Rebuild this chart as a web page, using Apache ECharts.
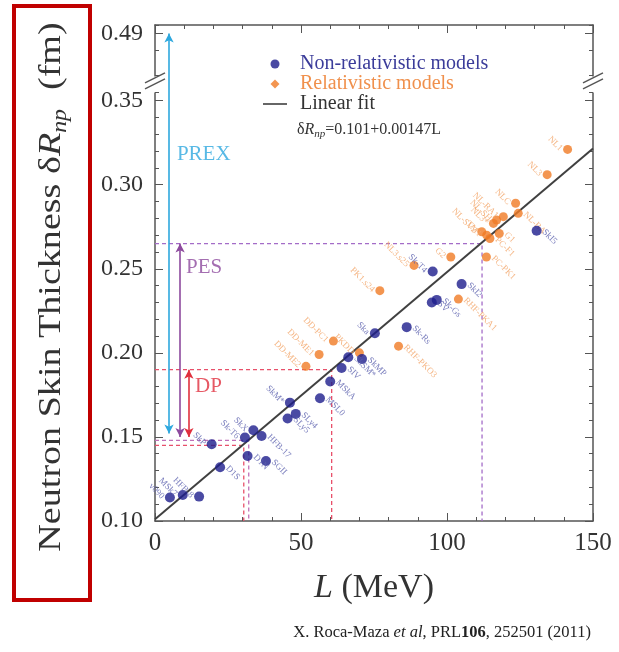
<!DOCTYPE html>
<html><head><meta charset="utf-8">
<script src="https://cdn.jsdelivr.net/npm/echarts@6/dist/echarts.min.js"></script>
<style>html,body{margin:0;padding:0;background:#fff}#c{width:619px;height:652px}</style>
</head><body><div id="c"></div>
<script>
// ---- data ----
const nonRelL = [5.1, 9.5, 15.1, 19.4, 22.3, 30.8, 31.7, 33.7, 36.5, 38.0, 45.4, 46.2, 48.2, 56.5, 60.0, 63.9, 66.2, 70.9, 75.3, 86.2, 94.8, 95.1, 96.5, 105.0, 130.7];
const nonRelR = [0.114, 0.1155, 0.1145, 0.1457, 0.132, 0.1496, 0.1387, 0.154, 0.1506, 0.1357, 0.161, 0.1704, 0.1637, 0.173, 0.183, 0.191, 0.1974, 0.1964, 0.2117, 0.2153, 0.230, 0.2484, 0.2315, 0.2409, 0.2726];
const nonRelNames = ['v090','MSk7','HFB-8','SkP','D1S','Sk-T6','D1N','SkX','HFB-17','SGII','SLy5','SkM*','SLy4','MSL0','MSkA','SIV','SkSM*','SkMP','Ska','Sk-Rs','SV','Sk-T4','Sk-Gs','SkI2','SkI5'];
const nonRelSide = ['ul','ul','ul','ul','dr','ul','dr','ul','dr','dr','dr','ul','dr','dr','dr','dr','dr','dr','ul','dr','dr','ul','dr','dr','dr'];

const relL = [51.7, 56.2, 61.1, 70.0, 77.0, 83.4, 88.7, 101.3, 103.9, 111.9, 113.5, 113.6, 114.7, 115.9, 117.0, 117.9, 119.3, 123.5, 124.4, 134.3, 141.3];
const relR = [0.192, 0.199, 0.207, 0.200, 0.237, 0.204, 0.252, 0.257, 0.232, 0.272, 0.257, 0.270, 0.268, 0.277, 0.279, 0.271, 0.281, 0.289, 0.283, 0.306, 0.321];
const relNames = ['DD-ME2','DD-ME1','DD-PC1','PKDD','PK1.s24','RHF-PKO3','NL3.s25','G2','RHF-PKA1','NL-SV2','PC-PK1','TM1','PC-F1','NL3*','NL-SH','G1','NL-RA1','NLC','NL-BA','NL3','NL1'];
const relSide = ['ul','ul','ul','ul','ul','dr','ul','ul','dr','ul','dr','ul','dr','ul','ul','dr','ul','ul','dr','ul','ul'];

const fitLine = [[0, 0.101], [150, 0.3215]];   // δR = 0.101 + 0.00147 L

// experimental constraints: [L position of arrow, lower, upper]
const prexArrow = [4.8, 0.152, 0.49];
const pesArrow  = [8.6, 0.150, 0.265];
const dpArrow   = [11.6, 0.150, 0.19];
// dashed guides
const pesUpperGuide = [[0, 0.265], [112, 0.265], [112, 0.10]];
const pesLowerGuide = [[0, 0.148], [32.1, 0.148], [32.1, 0.10]];
const dpUpperGuide  = [[0, 0.19], [60.5, 0.19], [60.5, 0.10]];
const dpLowerGuide  = [[0, 0.145], [30.4, 0.145], [30.4, 0.10]];
// annotation labels [L, δR, text, colour]
const annotations = [[7.5, 0.318, 'PREX', '#2ea8de'], [10.6, 0.2506, 'PES', '#8d4a9e'], [13.7, 0.1798, 'DP', '#e0303e']];

const xTicks = [0, 50, 100, 150];
const yTickVals = [0.10, 0.15, 0.20, 0.25, 0.30, 0.35, 0.49];
const yBreak = {start: 0.355, end: 0.465, gap: 0.01};

// ---- styles ----
const SERIF = '"Liberation Serif","DejaVu Serif",serif';
const BLUE = '#1d1d8c', BLUE_LBL = '#5b60ae';
const ORANGE = '#f07a24', ORANGE_LBL = '#f3a466';
const AX = '#555';

function pointData(Ls, Rs, names, sides) {
  return Ls.map((l, i) => ({
    value: [l, Rs[i]], name: names[i],
    label: sides[i] === 'ul'
      ? {position: 'left', align: 'right', rotate: -45, distance: 2}
      : {position: 'right', align: 'left', rotate: -45, distance: 2}
  }));
}

function yAx(pos, minor) {
  const a = {
    type: 'value', position: pos, min: 0.10, max: 0.495,
    breaks: [yBreak], breakArea: {show: false, expandOnClick: false},
    splitLine: {show: false},
    axisLine: {show: !minor, onZero: false, lineStyle: {color: AX, width: 1.5}},
    interval: minor ? 0.01 : 0.05
  };
  if (minor) {
    a.axisTick = {show: true, inside: true, length: 4, lineStyle: {color: AX}};
    a.axisLabel = {show: false};
  } else {
    a.axisTick = {show: true, inside: true, length: 8, customValues: yTickVals, lineStyle: {color: AX}};
    a.axisLabel = pos === 'left'
      ? {show: true, customValues: yTickVals, formatter: v => v.toFixed(2), fontFamily: SERIF, fontSize: 24, color: '#333', margin: 12}
      : {show: false};
  }
  return a;
}
function xAx(pos) {
  return {
    type: 'value', position: pos, min: 0, max: 150, interval: 50,
    splitLine: {show: false},
    axisLine: {onZero: false, lineStyle: {color: AX, width: 1.5}},
    axisTick: {show: true, inside: true, length: 8, lineStyle: {color: AX}},
    minorTick: {show: true, splitNumber: 5, length: 4, lineStyle: {color: AX}},
    axisLabel: pos === 'bottom'
      ? {show: true, fontFamily: SERIF, fontSize: 25, color: '#333', margin: 10, customValues: xTicks}
      : {show: false}
  };
}
function guide(data, color) {
  return {type: 'line', data: data, symbol: 'none', silent: true, z: 1,
    lineStyle: {color: color, width: 1.3, type: [4, 3]}};
}
function arrow(a, color) {
  return {type: 'line', data: [], symbol: 'none', silent: true, z: 3,
    markLine: {silent: true, symbol: ['arrow', 'arrow'], symbolSize: [7, 9], label: {show: false},
      lineStyle: {color: color, width: 1.6, type: 'solid'},
      data: [[{coord: [a[0], a[1]]}, {coord: [a[0], a[2]]}]]}};
}

const chart = echarts.init(document.getElementById('c'), null, {renderer: 'canvas'});
const option = {
  animation: false,
  backgroundColor: '#fff',
  grid: {left: 155, right: 26, top: 25, bottom: 131, containLabel: false},
  xAxis: [Object.assign(xAx('bottom'), {
      name: '{i|L} (MeV)', nameLocation: 'middle', nameGap: 50,
      nameTextStyle: {fontFamily: SERIF, fontSize: 34, color: '#333', rich: {i: {fontFamily: SERIF, fontSize: 34, fontStyle: 'italic', color: '#333'}}}
    }), xAx('top')],
  yAxis: [yAx('left', false), yAx('left', true), yAx('right', false), yAx('right', true)],
  legend: {
    orient: 'vertical', left: 258, top: 49, itemWidth: 24, itemHeight: 9, itemGap: 0,
    selectedMode: false, symbolKeepAspect: true,
    textStyle: {fontFamily: SERIF, fontSize: 20, padding: [0, 0, 0, 8]},
    data: [
      {name: 'Non-relativistic models', icon: 'circle', textStyle: {color: '#3b3c9a'}},
      {name: 'Relativistic models', icon: 'path://M5,0 L10,5 L5,10 L0,5 Z', textStyle: {color: '#f0904c'}},
      {name: 'Linear fit', icon: 'path://M0,0 L24,0 L24,1.6 L0,1.6 Z', textStyle: {color: '#333'}}
    ]
  },
  series: [
    guide(pesUpperGuide, '#a46cc8'),
    guide(pesLowerGuide, '#c070b8'),
    guide(dpUpperGuide, '#e8506a'),
    guide(dpLowerGuide, '#e8506a'),
    {name: 'Linear fit', type: 'line', data: fitLine, symbol: 'none', z: 2,
      lineStyle: {color: '#404040', width: 2}, itemStyle: {color: '#404040'}},
    {name: 'Non-relativistic models', type: 'scatter', symbol: 'circle', symbolSize: 10, z: 5,
      itemStyle: {color: BLUE},
      label: {show: true, formatter: '{b}', fontFamily: SERIF, fontSize: 9, color: BLUE_LBL},
      data: pointData(nonRelL, nonRelR, nonRelNames, nonRelSide)},
    {name: 'Relativistic models', type: 'scatter', symbol: 'circle', symbolSize: 9, z: 4,
      itemStyle: {color: ORANGE},
      label: {show: true, formatter: '{b}', fontFamily: SERIF, fontSize: 9, color: ORANGE_LBL},
      data: pointData(relL, relR, relNames, relSide)},
    arrow(prexArrow, '#2ea8de'),
    arrow(pesArrow, '#8d4a9e'),
    arrow(dpArrow, '#e0303e'),
    {type: 'scatter', symbolSize: 0, silent: true, z: 6,
      data: annotations.map(a => ({value: [a[0], a[1]], name: a[2],
        label: {show: true, position: 'right', distance: 0, formatter: '{b}', color: a[3], fontFamily: SERIF, fontSize: 21}}))}
  ]
};
chart.setOption(option);

// decorations: break marks, title, formula, citation, red box
const yLo = chart.convertToPixel({yAxisIndex: 0}, yBreak.start);
const yHi = chart.convertToPixel({yAxisIndex: 0}, yBreak.end);
const yMid = (yLo + yHi) / 2;
const xL = chart.convertToPixel({xAxisIndex: 0}, 0);
const xR = chart.convertToPixel({xAxisIndex: 0}, 150);
function breakMark(x) {
  return [
    {type: 'polygon', z: 50, shape: {points: [[x - 10, yMid + 5], [x + 10, yMid - 5], [x + 10, yMid - 11], [x - 10, yMid - 1]]}, style: {fill: '#fff'}},
    {type: 'line', z: 51, shape: {x1: x - 10, y1: yMid + 5, x2: x + 10, y2: yMid - 5}, style: {stroke: AX, lineWidth: 1.3}},
    {type: 'line', z: 51, shape: {x1: x - 10, y1: yMid - 1, x2: x + 10, y2: yMid - 11}, style: {stroke: AX, lineWidth: 1.3}}
  ];
}
chart.setOption({graphic: [
  ...breakMark(xL), ...breakMark(xR),
  {type: 'text', z: 60, x: 52, y: 287, rotation: Math.PI / 2, scaleX: 1.19, scaleY: 1,
    style: {text: '{t|Neutron Skin Thickness δ}{i|R}{s|np}{t|  (fm)}', align: 'center', verticalAlign: 'middle',
      rich: {
        t: {fontFamily: SERIF, fontSize: 32, fill: '#333', lineHeight: 38},
        i: {fontFamily: SERIF, fontSize: 32, fontStyle: 'italic', fill: '#333', lineHeight: 38},
        s: {fontFamily: SERIF, fontSize: 20, fontStyle: 'italic', fill: '#333', lineHeight: 20, verticalAlign: 'bottom'}
      }}},
  {type: 'text', z: 60, x: 297, y: 130,
    style: {text: 'δ{i|R}{s|np}=0.101+0.00147L', fontFamily: SERIF, fontSize: 16, fill: '#333', verticalAlign: 'middle',
      rich: {
        i: {fontFamily: SERIF, fontSize: 16, fontStyle: 'italic', fill: '#333', lineHeight: 20},
        s: {fontFamily: SERIF, fontSize: 11, fontStyle: 'italic', fill: '#333', lineHeight: 11, verticalAlign: 'bottom'}
      }}},
  {type: 'text', z: 60, x: 591, y: 633,
    style: {text: 'X. Roca-Maza {i|et al}, PRL{b|106}, 252501 (2011)', fontFamily: SERIF, fontSize: 16.5, fill: '#222', align: 'right', verticalAlign: 'middle',
      rich: {
        i: {fontFamily: SERIF, fontSize: 16.5, fontStyle: 'italic', fill: '#222'},
        b: {fontFamily: SERIF, fontSize: 16.5, fontWeight: 'bold', fill: '#222'}
      }}},
  {type: 'rect', z: 70, shape: {x: 14, y: 6, width: 76, height: 594}, style: {fill: 'none', stroke: '#c00000', lineWidth: 4}}
]});
</script>
</body></html>
